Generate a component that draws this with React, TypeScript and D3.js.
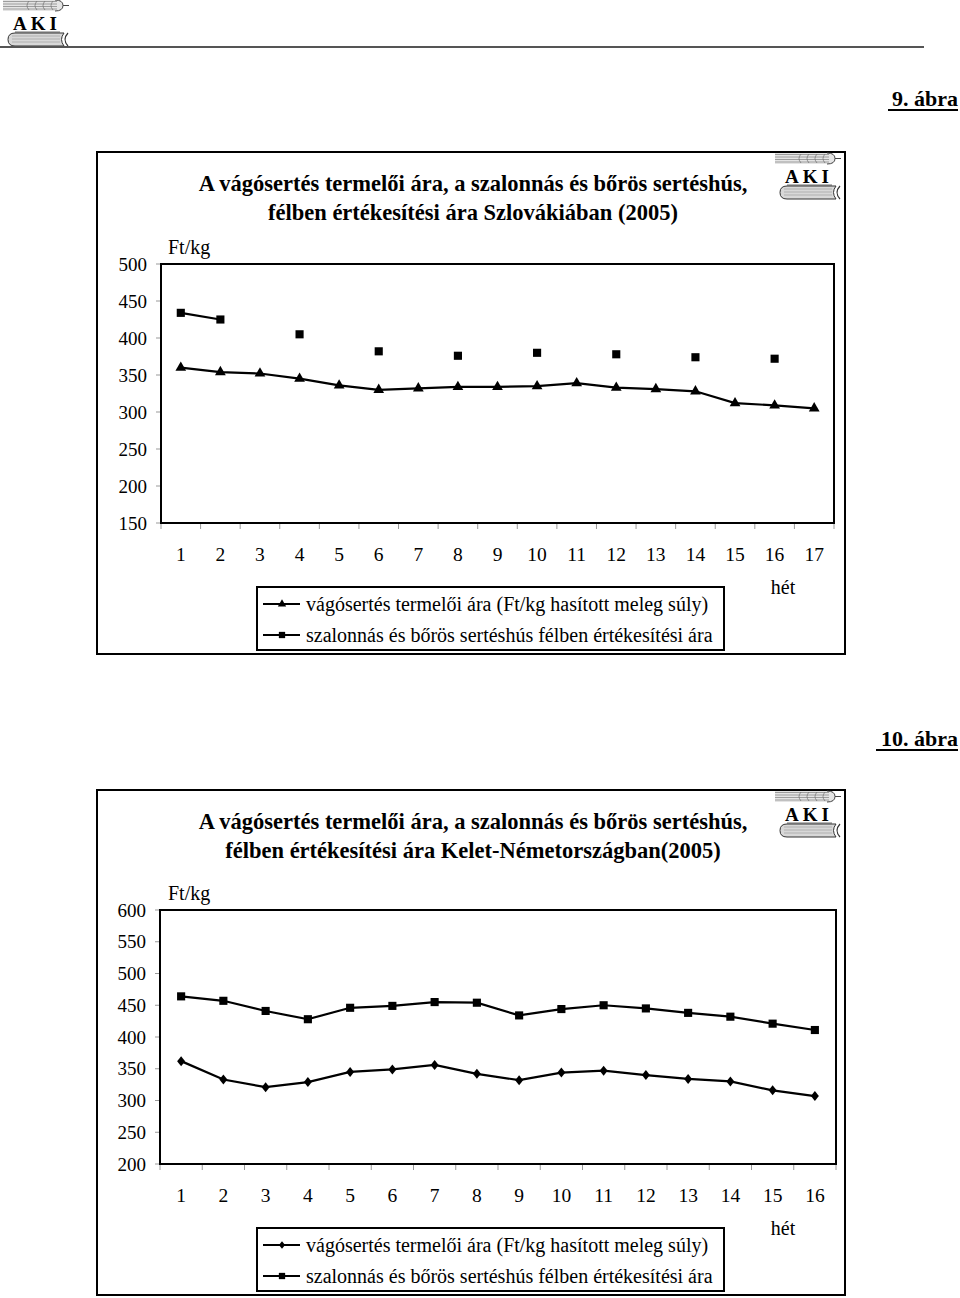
import React from "react";
import * as d3 from "d3";

// Szlovákia (9. ábra)
const weeksSK = ["1", "2", "3", "4", "5", "6", "7", "8", "9", "10", "11", "12", "13", "14", "15", "16", "17"];
const producerSK = [360, 354, 352, 345, 336, 330, 332, 334, 334, 335, 339, 333, 331, 328, 312, 309, 305];
const halfSK = [434, 425, null, 405, null, 382, null, 376, null, 380, null, 378, null, 374, null, 372, null];
const yTicksSK = [150, 200, 250, 300, 350, 400, 450, 500];

// Kelet-Németország (10. ábra)
const weeksDE = ["1", "2", "3", "4", "5", "6", "7", "8", "9", "10", "11", "12", "13", "14", "15", "16"];
const producerDE = [362, 333, 321, 329, 345, 349, 356, 342, 332, 344, 347, 340, 334, 330, 316, 307];
const halfDE = [464, 457, 441, 428, 446, 449, 455, 454, 434, 444, 450, 445, 438, 432, 421, 411];
const yTicksDE = [200, 250, 300, 350, 400, 450, 500, 550, 600];

const legendProducer = "vágósertés termelői ára (Ft/kg hasított meleg súly)";
const legendHalf = "szalonnás és bőrös sertéshús félben értékesítési ára";

const SERIF = "'Liberation Serif', 'Times New Roman', serif";

function marker(kind: string, k = 1) {
  if (kind === "triangle") return d3.symbol(d3.symbolTriangle, 50 * k)()!;
  if (kind === "square") return d3.symbol(d3.symbolSquare, 66 * k)()!;
  const w = 4 * Math.sqrt(k);
  const h = 5 * Math.sqrt(k);
  return `M0,${-h}L${w},0L0,${h}L${-w},0Z`;
}

function Logo({ x, y }: { x: number; y: number }) {
  const stripes = [1.5, 4, 6.5, 9];
  const grains = [22, 30, 38, 46];
  return (
    <g transform={`translate(${x},${y})`}>
      <path d="M0,0H52Q60,0 60,5.5Q60,11 52,11H0Z" fill="#e4e4e4" />
      {stripes.map((s) => (
        <line key={s} x1={0} x2={54} y1={s} y2={s} stroke="#8a8a8a" strokeWidth={0.8} />
      ))}
      {grains.map((g) => (
        <path key={g} d={`M${g + 4},1Q${g},5.5 ${g + 4},10`} fill="none" stroke="#777" strokeWidth={0.8} />
      ))}
      <path d="M52,0Q60,0 60,5.5Q60,11 52,11" fill="none" stroke="#444" strokeWidth={1} />
      <line x1={60} x2={66} y1={5.5} y2={5.5} stroke="#444" strokeWidth={1} />
      <text x={34} y={30} textAnchor="middle" fontFamily={SERIF} fontWeight="bold" fontSize={19} letterSpacing={4}>
        AKI
      </text>
      <line x1={12} x2={57} y1={32} y2={32} stroke="#444" strokeWidth={0.8} />
      <path d="M12,33H61Q56,39.5 61,46H12Q5,46 5,39.5Q5,33 12,33Z" fill="#d8d8d8" stroke="#333" strokeWidth={1} />
      {[36, 39, 42].map((l) => (
        <line key={l} x1={9} x2={57} y1={l} y2={l} stroke="#999" strokeWidth={0.6} />
      ))}
      <path d="M65,33Q59,39.5 65,46" fill="none" stroke="#333" strokeWidth={1.2} />
    </g>
  );
}

type ChartProps = {
  top: number;
  title: string[];
  weeks: string[];
  producer: (number | null)[];
  half: (number | null)[];
  yTicks: number[];
  producerMarker: string;
  plot: { left: number; right: number; top: number; bottom: number };
};

function Chart({ top, title, weeks, producer, half, yTicks, producerMarker, plot }: ChartProps) {
  const x = d3.scaleBand<string>().domain(weeks).range([plot.left, plot.right]).padding(0);
  const y = d3
    .scaleLinear()
    .domain([d3.min(yTicks)!, d3.max(yTicks)!])
    .range([plot.bottom, plot.top]);
  const cx = (w: string) => x(w)! + x.bandwidth() / 2;

  const line = d3
    .line<number | null>()
    .defined((d) => d != null)
    .x((_, i) => cx(weeks[i]))
    .y((d) => y(d as number));

  const boundaries = [...weeks.map((w) => x(w)!), plot.right];
  const legTop = plot.bottom + 64;
  const legLeft = 257;

  const series = [
    { values: producer, kind: producerMarker, label: legendProducer },
    { values: half, kind: "square", label: legendHalf },
  ];

  return (
    <g>
      <rect x={97} y={top} width={748} height={plot.bottom + 131 - top} fill="none" stroke="#000" strokeWidth={2} />
      <Logo x={775} y={top + 1} />
      {title.map((t, i) => (
        <text key={i} x={473} y={top + 39 + i * 29} textAnchor="middle" fontFamily={SERIF} fontWeight="bold" fontSize={22.5}>
          {t}
        </text>
      ))}
      <text x={168} y={plot.top - 10} fontFamily={SERIF} fontSize={20}>
        Ft/kg
      </text>

      {yTicks.map((t) => (
        <g key={t}>
          <line x1={plot.left - 5} x2={plot.left} y1={y(t)} y2={y(t)} stroke="#999" />
          <text x={plot.left - 14} y={y(t)} dy="0.35em" textAnchor="end" fontFamily={SERIF} fontSize={19}>
            {t}
          </text>
        </g>
      ))}
      {boundaries.map((b, i) => (
        <line key={i} x1={b} x2={b} y1={plot.bottom} y2={plot.bottom + 6} stroke="#999" />
      ))}
      {weeks.map((w) => (
        <text key={w} x={cx(w)} y={plot.bottom + 31} dy="0.35em" textAnchor="middle" fontFamily={SERIF} fontSize={19.5}>
          {w}
        </text>
      ))}
      <text x={783} y={plot.bottom + 64} dy="0.35em" textAnchor="middle" fontFamily={SERIF} fontSize={20}>
        hét
      </text>

      <rect
        x={plot.left}
        y={plot.top}
        width={plot.right - plot.left}
        height={plot.bottom - plot.top}
        fill="none"
        stroke="#000"
        strokeWidth={2}
      />

      {series.map((s, k) => (
        <g key={k}>
          <path d={line(s.values) || ""} fill="none" stroke="#000" strokeWidth={2.2} />
          {s.values.map((v, i) =>
            v == null ? null : (
              <path key={i} d={marker(s.kind)} transform={`translate(${cx(weeks[i])},${y(v)})`} fill="#000" />
            )
          )}
        </g>
      ))}

      <rect x={legLeft} y={legTop} width={467} height={63} fill="#fff" stroke="#000" strokeWidth={2} />
      {series.map((s, k) => {
        const ly = legTop + 17 + k * 31;
        return (
          <g key={k}>
            <line x1={legLeft + 6} x2={legLeft + 43} y1={ly} y2={ly} stroke="#000" strokeWidth={2.2} />
            <path d={marker(s.kind, 0.6)} transform={`translate(${legLeft + 25},${ly})`} fill="#000" />
            <text x={legLeft + 49} y={ly} dy="0.35em" fontFamily={SERIF} fontSize={20}>
              {s.label}
            </text>
          </g>
        );
      })}
    </g>
  );
}

export default function App() {
  return (
    <svg
      width={960}
      height={1298}
      style={{ position: "absolute", left: 0, top: 0, background: "#fff" }}
      fontFamily={SERIF}
    >
      <rect width={960} height={1298} fill="#fff" />
      <Logo x={3} y={0} />
      <line x1={0} x2={924} y1={47} y2={47} stroke="#555" strokeWidth={2} />

      <text x={958} y={106} textAnchor="end" fontFamily={SERIF} fontWeight="bold" fontSize={22}>
        9. ábra
      </text>
      <line x1={888} x2={958} y1={110} y2={110} stroke="#000" strokeWidth={2} />

      <Chart
        top={152}
        title={["A vágósertés termelői ára, a szalonnás és bőrös sertéshús,", "félben értékesítési ára Szlovákiában (2005)"]}
        weeks={weeksSK}
        producer={producerSK}
        half={halfSK}
        yTicks={yTicksSK}
        producerMarker="triangle"
        plot={{ left: 161, right: 834, top: 264, bottom: 523 }}
      />

      <text x={958} y={746} textAnchor="end" fontFamily={SERIF} fontWeight="bold" fontSize={22}>
        10. ábra
      </text>
      <line x1={876} x2={958} y1={750} y2={750} stroke="#000" strokeWidth={2} />

      <Chart
        top={790}
        title={["A vágósertés termelői ára, a szalonnás és bőrös sertéshús,", "félben értékesítési ára Kelet-Németországban(2005)"]}
        weeks={weeksDE}
        producer={producerDE}
        half={halfDE}
        yTicks={yTicksDE}
        producerMarker="diamond"
        plot={{ left: 160, right: 836, top: 910, bottom: 1164 }}
      />
    </svg>
  );
}
